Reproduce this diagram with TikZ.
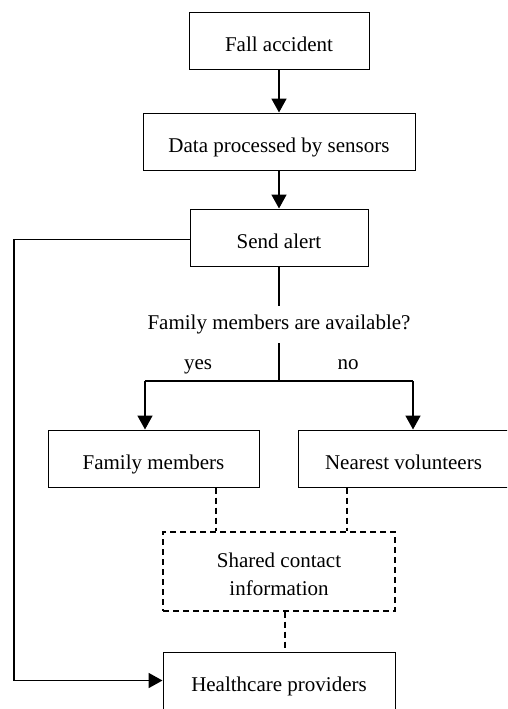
\documentclass[tikz,border=0pt]{standalone}
\usepackage{fontspec}
\setmainfont{Liberation Serif}
\usetikzlibrary{arrows.meta}
\begin{document}
\begin{tikzpicture}[x=1pt,y=-1pt,
  box/.style={draw,line width=1pt,minimum height=57pt,inner sep=0pt,font=\fontsize{21}{25}\selectfont,text height=21pt,text depth=0pt},
  dbox/.style={draw,line width=1.1pt,dash pattern=on 6pt off 4pt,minimum height=79pt,inner sep=0pt},
  lbl/.style={inner sep=0pt,font=\fontsize{21}{25}\selectfont},
  arr/.style={line width=1.8pt,-{Triangle[length=14pt,width=15pt]}},
  ln/.style={line width=1.8pt},
  dl/.style={line width=1.2pt,dash pattern=on 6pt off 4pt}]
\useasboundingbox (0,0) rectangle (507,709);
\clip (0,0) rectangle (507,709);
\fill[white] (0,0) rectangle (507,709);
\node[box,minimum width=180pt] (fall) at (279,41) {Fall accident};
\node[box,minimum width=272pt] (data) at (279,141.5) {Data processed by sensors};
\node[box,minimum width=178pt] (send) at (279,237.5) {Send alert};
\node[lbl,minimum height=37pt] (q) at (279,324.5) {Family members are available?};
\node[box,minimum width=211pt] (fam) at (153.5,458.5) {Family members};
\node[box,minimum width=211pt] (near) at (403.5,458.5) {Nearest volunteers};
\node[dbox,minimum width=232pt] (shared) at (279,571.5) {};
\node[lbl,align=center] (sharedtxt) at (279,574) {Shared contact\\[3pt]information};
\node[box,minimum width=232pt] (health) at (279,680.5) {Healthcare providers};
\node[lbl,anchor=base] (yes) at (198,369) {yes};
\node[lbl,anchor=base] (no) at (348,369) {no};
\coordinate (j) at (279,381);
\coordinate (jl) at (145,381);
\coordinate (jr) at (413,381);
\coordinate (lc) at (14,239.5);
\draw[arr] (fall) -- (data);
\draw[arr] (data) -- (send);
\draw[ln] (send) -- (q);
\draw[ln] (q) -- (j);
\draw[ln] (jl) -- (jr);
\draw[arr] (jl) -- (jl |- fam.north);
\draw[arr] (jr) -- (jr |- near.north);
\draw[arr] (send.west |- lc) -- (lc) |- (health.west);
\draw[dl] (fam.south -| 216,0) -- (shared.north -| 216,0);
\draw[dl] (near.south -| 347,0) -- (shared.north -| 347,0);
\draw[dl] (shared.south -| 285,0) -- (health.north -| 285,0);
\end{tikzpicture}
\end{document}
